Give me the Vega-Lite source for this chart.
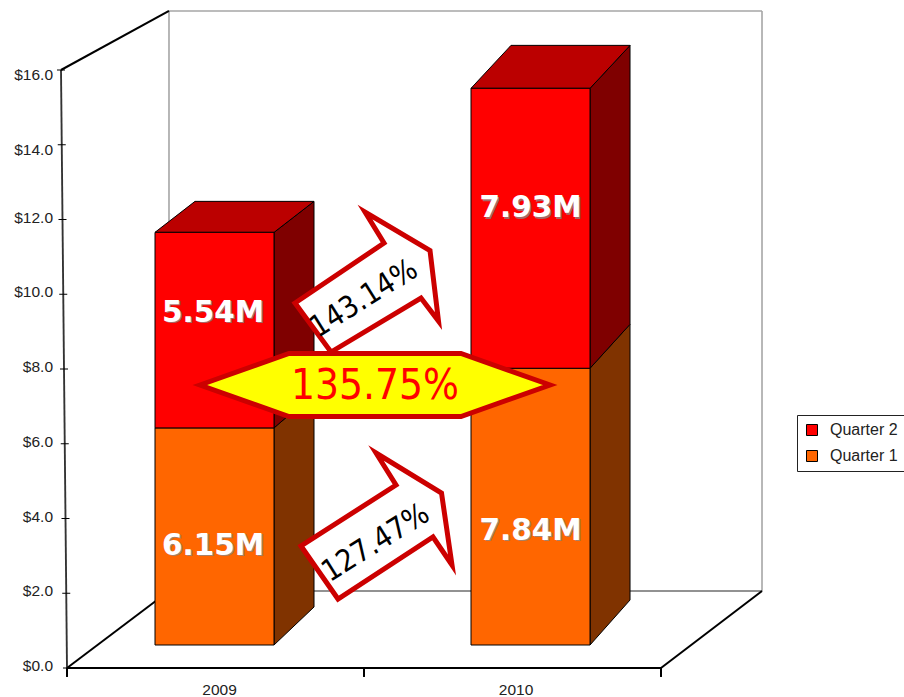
{
  "$schema": "https://vega.github.io/schema/vega-lite/v6.json",
  "width": 904,
  "height": 697,
  "padding": 0,
  "autosize": "none",
  "background": "white",
  "config": {"view": {"stroke": null}},
  "datasets": {
    "revenue": [
      {"year": "2009", "quarter": "Quarter 1", "value": 6.15},
      {"year": "2009", "quarter": "Quarter 2", "value": 5.54},
      {"year": "2010", "quarter": "Quarter 1", "value": 7.84},
      {"year": "2010", "quarter": "Quarter 2", "value": 7.93}
    ],
    "frame": [
      {"edge": "wall", "cx": 0.3434, "cy": 17.58, "cx2": 2.3401, "cy2": 17.58},
      {"edge": "wall", "cx": 2.3401, "cy": 17.58, "cx2": 2.3401, "cy2": 2.06},
      {"edge": "wall", "cx": 0.3434, "cy": 17.58, "cx2": 0.3434, "cy2": 2.06},
      {"edge": "back", "cx": 0.3434, "cy": 2.06, "cx2": 2.3401, "cy2": 2.06},
      {"edge": "axis", "cx": -0.0202, "cy": 16, "cx2": 0, "cy2": 0},
      {"edge": "front", "cx": -0.0202, "cy": 16, "cx2": 0.3434, "cy2": 17.58},
      {"edge": "front", "cx": 0, "cy": 0, "cx2": 2, "cy2": 0},
      {"edge": "front", "cx": 0, "cy": 0, "cx2": 0.3434, "cy2": 2.06},
      {"edge": "front", "cx": 2, "cy": 0, "cx2": 2.3401, "cy2": 2.06},
      {"edge": "front", "cx": 0, "cy": 0, "cx2": 0, "cy2": -0.24},
      {"edge": "front", "cx": 1, "cy": 0, "cx2": 1, "cy2": -0.24},
      {"edge": "front", "cx": 2, "cy": 0, "cx2": 2, "cy2": -0.24}
    ],
    "ticks": [
      {"value": 0, "label": "$0.0"},
      {"value": 2, "label": "$2.0"},
      {"value": 4, "label": "$4.0"},
      {"value": 6, "label": "$6.0"},
      {"value": 8, "label": "$8.0"},
      {"value": 10, "label": "$10.0"},
      {"value": 12, "label": "$12.0"},
      {"value": 14, "label": "$14.0"},
      {"value": 16, "label": "$16.0"}
    ],
    "years": [
      {"text": "2009", "cx": 0.5135, "cy": -0.589},
      {"text": "2010", "cx": 1.512, "cy": -0.589}
    ],
    "barLabels": [
      {"text": "6.15M", "cx": 0.4916, "cy": 3.27},
      {"text": "5.54M", "cx": 0.4916, "cy": 9.5},
      {"text": "7.84M", "cx": 1.5606, "cy": 3.67},
      {"text": "7.93M", "cx": 1.5606, "cy": 12.3}
    ]
  },
  "encoding": {
    "x": {"field": "cx", "type": "quantitative", "axis": null, "scale": {"domain": [-0.22559, 2.81818], "range": [0, 904], "nice": false, "zero": false}},
    "y": {"field": "cy", "type": "quantitative", "axis": null, "stack": null, "scale": {"domain": [-0.77592, 17.87291], "range": [697, 0], "nice": false, "zero": false}}
  },
  "layer": [
    {
      "data": {"name": "frame"},
      "mark": {"type": "rule"},
      "encoding": {
        "x2": {"field": "cx2"},
        "y2": {"field": "cy2"},
        "stroke": {"field": "edge", "type": "nominal", "legend": null, "scale": {"domain": ["wall", "back", "axis", "front"], "range": ["#a6a6a6", "#6e6e6e", "#333333", "#000000"]}},
        "strokeWidth": {"field": "edge", "type": "nominal", "legend": null, "scale": {"domain": ["wall", "back", "axis", "front"], "range": [1.6, 2, 1.5, 1.1]}}
      }
    },
    {
      "data": {"name": "ticks"},
      "transform": [
        {"calculate": "datum.value", "as": "cy"},
        {"calculate": "-0.0202 * datum.value / 16 - 0.0135", "as": "cx"},
        {"calculate": "-0.0202 * datum.value / 16 + 0.0135", "as": "cx2"}
      ],
      "mark": {"type": "rule", "stroke": "black", "strokeWidth": 1},
      "encoding": {"x2": {"field": "cx2"}}
    },
    {
      "data": {"name": "ticks"},
      "transform": [
        {"calculate": "datum.value >= 14 ? datum.value - 0.13 : datum.value + 0.05", "as": "cy"},
        {"calculate": "-0.0471", "as": "cx"}
      ],
      "mark": {"type": "text", "align": "right", "baseline": "middle", "font": "Liberation Sans", "fontSize": 15.5, "fill": "#222222"},
      "encoding": {"text": {"field": "label"}}
    },
    {
      "data": {"name": "years"},
      "mark": {"type": "text", "align": "center", "baseline": "middle", "font": "Liberation Sans", "fontSize": 15.5, "fill": "#222222"},
      "encoding": {"text": {"field": "text"}}
    },
    {
      "data": {"name": "revenue"},
      "transform": [
        {"stack": "value", "groupby": ["year"], "sort": [{"field": "quarter", "order": "ascending"}], "as": ["level0", "level1"]},
        {"calculate": "0.615 + 0.9445 * datum.level0", "as": "low"},
        {"calculate": "0.615 + 0.9445 * datum.level1", "as": "high"},
        {"calculate": "datum.year === '2009' ? 0.2963 : 1.3603", "as": "left"},
        {"calculate": "datum.left + 0.4007", "as": "right"},
        {"calculate": "(datum.year === '2009' ? 38 - 0.6 * datum.level0 : 45 - 0.13 * datum.level0) / 37.375", "as": "riseLow"},
        {"calculate": "(datum.year === '2009' ? 38 - 0.6 * datum.level1 : 45 - 0.13 * datum.level1) / 37.375", "as": "riseHigh"},
        {"calculate": "datum.year + datum.quarter", "as": "bar"}
      ],
      "layer": [
        {
          "transform": [
            {"filter": "datum.quarter === 'Quarter 1'"},
            {"calculate": "[0, 1]", "as": "t"},
            {"flatten": ["t"]},
            {"calculate": "datum.right + datum.t * 0.1347", "as": "cx"},
            {"calculate": "datum.low + datum.t * datum.riseLow", "as": "cy"},
            {"calculate": "datum.high + datum.t * datum.riseHigh", "as": "cy2"}
          ],
          "mark": {"type": "area", "orient": "vertical", "fill": "#803300", "stroke": "black", "strokeWidth": 1},
          "encoding": {"y2": {"field": "cy2"}, "detail": {"field": "bar"}}
        },
        {
          "transform": [
            {"filter": "datum.quarter === 'Quarter 2'"},
            {"calculate": "[0, 1]", "as": "t"},
            {"flatten": ["t"]},
            {"calculate": "datum.right + datum.t * 0.1347", "as": "cx"},
            {"calculate": "datum.low + datum.t * datum.riseLow", "as": "cy"},
            {"calculate": "datum.high + datum.t * datum.riseHigh", "as": "cy2"}
          ],
          "mark": {"type": "area", "orient": "vertical", "fill": "#7f0000", "stroke": "black", "strokeWidth": 1},
          "encoding": {"y2": {"field": "cy2"}, "detail": {"field": "bar"}}
        },
        {
          "transform": [
            {"filter": "datum.quarter === 'Quarter 2'"},
            {"calculate": "[0, 1, 2, 3]", "as": "step"},
            {"flatten": ["step"]},
            {"calculate": "datum.step === 0 ? datum.left : datum.step === 1 ? datum.left + 0.1347 : datum.step === 2 ? datum.right : datum.right + 0.1347", "as": "cx"},
            {"calculate": "datum.step === 0 ? datum.high : datum.high + datum.riseHigh", "as": "cy"},
            {"calculate": "datum.step === 3 ? datum.high + datum.riseHigh : datum.high", "as": "cy2"}
          ],
          "mark": {"type": "area", "orient": "vertical", "fill": "#bb0000", "stroke": "black", "strokeWidth": 1},
          "encoding": {"y2": {"field": "cy2"}, "detail": {"field": "bar"}}
        },
        {
          "transform": [
            {"calculate": "datum.left", "as": "cx"},
            {"calculate": "datum.right", "as": "cx2"},
            {"calculate": "datum.low", "as": "cy"},
            {"calculate": "datum.high", "as": "cy2"}
          ],
          "mark": {"type": "rect", "stroke": "black", "strokeWidth": 1},
          "encoding": {
            "x2": {"field": "cx2"},
            "y2": {"field": "cy2"},
            "fill": {
              "field": "quarter",
              "type": "nominal",
              "scale": {"domain": ["Quarter 2", "Quarter 1"], "range": ["#ff0000", "#ff6600"]},
              "legend": {
                "title": null,
                "orient": "none",
                "legendX": 797,
                "legendY": 415,
                "padding": 7,
                "strokeColor": "#222222",
                "fillColor": "white",
                "symbolType": "square",
                "symbolSize": 121,
                "symbolStrokeColor": "black",
                "symbolStrokeWidth": 1,
                "labelFont": "Liberation Sans",
                "labelFontSize": 16,
                "labelColor": "#222222",
                "labelOffset": 10,
                "labelLimit": 120,
                "rowPadding": 10
              }
            }
          }
        }
      ]
    },
    {
      "data": {"name": "barLabels"},
      "mark": {"type": "text", "align": "center", "baseline": "middle", "font": "DejaVu Sans", "fontWeight": "bold", "fontSize": 29.5, "fill": "#8a8a8a", "opacity": 0.75, "dx": 1.5, "dy": 1.5},
      "encoding": {"text": {"field": "text"}}
    },
    {
      "data": {"name": "barLabels"},
      "mark": {"type": "text", "align": "center", "baseline": "middle", "font": "DejaVu Sans", "fontWeight": "bold", "fontSize": 29.5, "fill": "white"},
      "encoding": {"text": {"field": "text"}}
    },
    {
      "data": {"values": [{"cx": 1.00337, "cy": 10.38}]},
      "mark": {"type": "point", "filled": true, "shape": "M-70 23L-34 72L56 18L73.5 41L65 -29.5L0 -68L19 -37Z", "size": 4, "opacity": 1, "fill": "white", "stroke": "#cc0000", "strokeWidth": 5, "strokeJoin": "miter", "strokeMiterLimit": 20}
    },
    {
      "data": {"values": [{"text": "143.14%", "cx": 1.0, "cy": 9.88}]},
      "mark": {"type": "text", "align": "center", "baseline": "middle", "angle": 328, "font": "DejaVu Sans Condensed", "fontSize": 30, "fill": "black"},
      "encoding": {"text": {"field": "text"}}
    },
    {
      "data": {"values": [{"cx": 1.0438, "cy": 3.826}]},
      "mark": {"type": "point", "filled": true, "shape": "M-76 21L-39 74L56 12L75 40L64.5 -32L-1 -72L19 -40Z", "size": 4, "opacity": 1, "fill": "white", "stroke": "#cc0000", "strokeWidth": 5, "strokeJoin": "miter", "strokeMiterLimit": 20}
    },
    {
      "data": {"values": [{"text": "127.47%", "cx": 1.04, "cy": 3.344}]},
      "mark": {"type": "text", "align": "center", "baseline": "middle", "angle": 328, "font": "DejaVu Sans Condensed", "fontSize": 30, "fill": "black"},
      "encoding": {"text": {"field": "text"}}
    },
    {
      "data": {"values": [{"cx": 1.037, "cy": 7.572}]},
      "mark": {"type": "point", "filled": true, "shape": "M-175 0L-86 -31.5L86 -31.5L175 0L86 31.5L-86 31.5Z", "size": 4, "opacity": 1, "fill": "#ffff00", "stroke": "#cc0000", "strokeWidth": 5, "strokeJoin": "miter", "strokeMiterLimit": 20}
    },
    {
      "data": {"values": [{"text": "135.75%", "cx": 1.037, "cy": 7.54}]},
      "mark": {"type": "text", "align": "center", "baseline": "middle", "font": "DejaVu Sans Condensed", "fontSize": 42, "fill": "#ff0000"},
      "encoding": {"text": {"field": "text"}}
    }
  ]
}
